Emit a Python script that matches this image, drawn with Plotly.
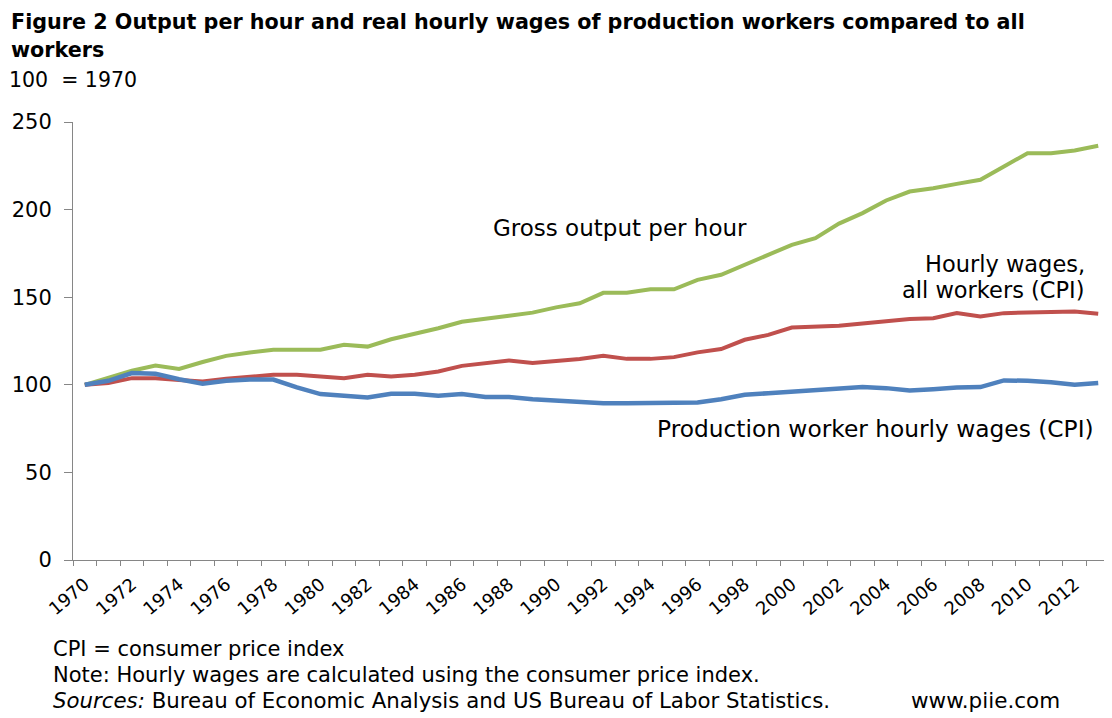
import plotly.graph_objects as go

years = list(range(1970, 2014))

gross_output = [100, 104, 108, 111, 109, 113, 116.5, 118.4, 120, 120, 120,
                122.8, 121.8, 126, 129, 132.3, 136, 137.5, 139.4, 141.2, 144.2, 146.5,
                152.5, 152.5, 154.5, 154.5, 159.9, 162.8, 168.5, 174.2, 179.9, 183.7, 192,
                198, 205.2, 210.3, 212.2, 214.7, 217, 224.6, 232.2, 232.2, 233.7, 236.4]

all_workers = [100, 101, 103.8, 103.8, 102.8, 101.9, 103.4, 104.7, 105.7, 105.7, 104.7,
               103.8, 105.7, 104.7, 105.7, 107.6, 110.8, 112.4, 113.9, 112.4, 113.3, 114.7,
               116.6, 114.8, 114.8, 115.8, 118.5, 120.4, 125.7, 128.5, 132.7, 133.3, 133.7,
               135, 136.5, 137.5, 138, 140.9, 139, 140.9, 141.3, 141.3, 141.8, 140.5]

production_workers = [100, 102.3, 106.7, 106.3, 103.2, 100.6, 102.3, 103, 103, 98.5, 94.7,
                      93.9, 92.8, 94.9, 94.9, 93.7, 94.7, 93, 93, 91.8, 90.9, 89.9,
                      89.4, 89.5, 89.5, 89.5, 89.9, 91.8, 94.3, 95.2, 96, 96.8, 97.7,
                      98.7, 98.1, 96.8, 97.5, 98.5, 98.7, 102.5, 102.3, 101.5, 100, 101]

x_tick_labels = [str(y) for y in range(1970, 2013, 2)]
y_ticks = [0, 50, 100, 150, 200, 250]

FONT = "DejaVu Sans"
ASC, DESC = 0.928, 0.236  # DejaVu Sans ascent / descent (em)
OFF = 8  # default page body margin
W, H = 1112 - OFF, 718 - OFF
L, R = 72.5 - OFF, 1110 - OFF
T, B = 122.3 - OFF, 560.2 - OFF


def px(x):
    return (x - OFF - L) / (R - L)


def py(y):
    return (B - (y - OFF)) / (B - T)


fig = go.Figure()
fig.add_trace(go.Scatter(x=years, y=gross_output, mode="lines",
                         line=dict(color="#9BBB59", width=4), name="Gross output per hour"))
fig.add_trace(go.Scatter(x=years, y=all_workers, mode="lines",
                         line=dict(color="#C0504D", width=4), name="Hourly wages, all workers (CPI)"))
fig.add_trace(go.Scatter(x=years, y=production_workers, mode="lines",
                         line=dict(color="#4F81BD", width=4.5), name="Production worker hourly wages (CPI)"))

fig.update_layout(
    width=W, height=H,
    margin=dict(l=L, r=W - R, t=T, b=H - B, pad=0),
    paper_bgcolor="white", plot_bgcolor="white",
    showlegend=False,
    font=dict(family=FONT, color="#000000"),
)

fig.update_xaxes(
    range=[1969.5, 2013.5],
    tickmode="array", tickvals=[int(v) for v in x_tick_labels], ticktext=x_tick_labels,
    ticks="", tickangle=-40, ticklabelstandoff=6,
    tickfont=dict(family=FONT, size=18, color="#000000"),
    showline=True, linecolor="#868686", linewidth=1,
    showgrid=False, zeroline=False,
    minor=dict(tickmode="linear", tick0=1969.5, dtick=1, ticks="outside", ticklen=5,
               tickcolor="#868686", tickwidth=1, showgrid=False),
)
fig.update_yaxes(
    range=[0, 250], tickmode="array", tickvals=y_ticks,
    ticks="outside", ticklen=8, tickcolor="#868686", tickwidth=1,
    tickfont=dict(family=FONT, size=21, color="#000000"),
    ticklabelstandoff=8,
    showline=True, linecolor="#868686", linewidth=1,
    showgrid=False, zeroline=False,
)


def note(text, x, baseline, size, xanchor="left", bold=False):
    if bold:
        text = "<b>" + text + "</b>"
    middle = baseline - (ASC - DESC) / 2 * size
    return dict(text=text, x=px(x), y=py(middle), xanchor=xanchor, yanchor="middle",
                xref="paper", yref="paper", showarrow=False, borderpad=0,
                font=dict(family=FONT, size=size, color="#000000"))


anns = [
    note("Figure 2 Output per hour and real hourly wages of production workers compared to all", 9, 29.5, 20.7, bold=True),
    note("workers", 9, 57, 20.7, bold=True),
    note("100  = 1970", 7, 87.5, 20.5),
    note("Gross output per hour", 492, 236, 23),
    note("Hourly wages,", 1086, 271.7, 22.5, xanchor="right"),
    note("all workers (CPI)", 1086, 298.3, 22.5, xanchor="right"),
    note("Production worker hourly wages (CPI)", 656, 437, 23.3),
    note("CPI = consumer price index", 51, 656, 21),
    note("Note: Hourly wages are calculated using the consumer price index.", 51, 682.7, 21),
    note("<i>Sources:</i> Bureau of Economic Analysis and US Bureau of Labor Statistics.", 51, 708.3, 21.3),
    note("www.piie.com", 1061, 708.3, 21.5, xanchor="right"),
]
fig.update_layout(annotations=anns)

fig.write_html("out.html")
